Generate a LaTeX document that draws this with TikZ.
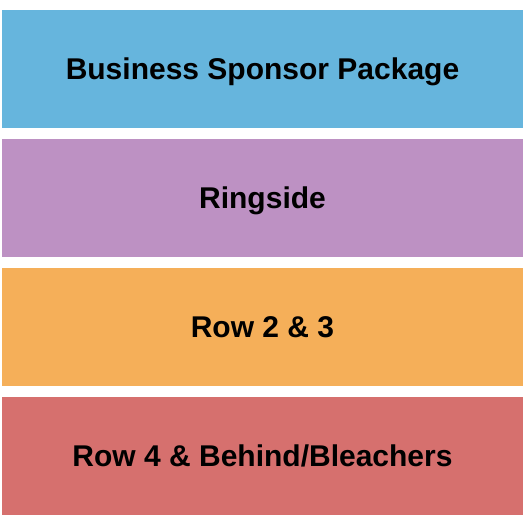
\documentclass[tikz,border=0pt]{standalone}
\usepackage{fontspec}
\setmainfont{Liberation Sans}
\definecolor{sponsor}{HTML}{66B5DD}
\definecolor{ringside}{HTML}{BD91C3}
\definecolor{rowmid}{HTML}{F5AF59}
\definecolor{rowback}{HTML}{D6706E}

\begin{document}
\begin{tikzpicture}[x=1pt,y=-1pt,
  font=\bfseries\fontsize{30}{36}\selectfont,
  section/.style={minimum width=521pt,minimum height=118pt,
    text height=20pt,text depth=0pt,inner sep=0pt,text=black}]
  \useasboundingbox[fill=white] (0,0) rectangle (525,525);

  % Seating sections, front to back
  \node[section,fill=sponsor] (sponsor) at (262.5,69) {Business Sponsor Package};
  \node[section,fill=ringside] (ringside) at (262.5,198) {Ringside};
  \node[section,fill=rowmid] (rowmid) at (262.5,327) {Row 2 \& 3};
  \node[section,fill=rowback] (rowback) at (262.5,456) {Row 4 \& Behind/Bleachers};
\end{tikzpicture}
\end{document}
